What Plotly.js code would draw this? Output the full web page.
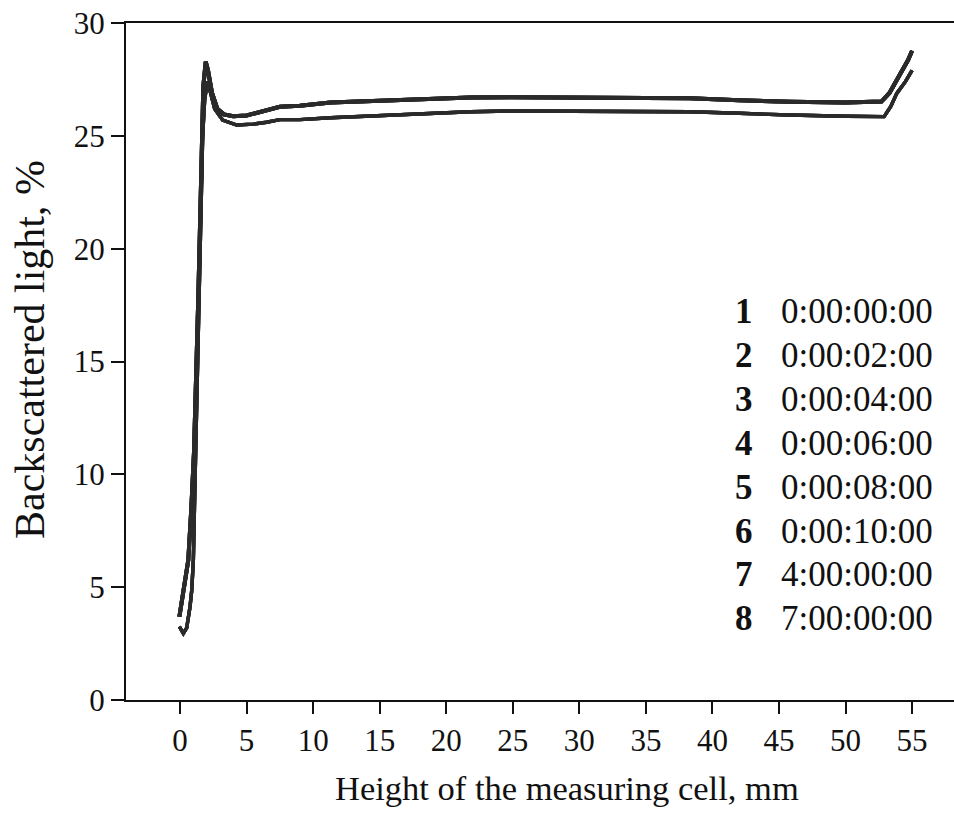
<!DOCTYPE html>
<html>
<head>
<meta charset="utf-8">
<script src="https://cdn.plot.ly/plotly-3.0.1.min.js"></script>
<style>html,body{margin:0;padding:0;background:#fff;}#chart{width:954px;height:814px;}</style>
</head>
<body>
<div id="chart"></div>
<script>
// Upper band of curves (higher backscattering)
const xUpper = [-0.05, 0.3, 0.62, 0.85, 1.05, 1.38, 1.6, 1.75, 1.93, 2.1, 2.4, 2.8, 3.3, 4.0, 5.0, 6.0, 7.5, 9.0, 10.0, 11.3, 15, 18, 21.8, 25, 30, 35, 38.3, 42, 45.8, 50, 52.7, 53.3, 53.85, 54.7, 55.0];
const yUpper = [3.69, 5.0, 6.2, 8.5, 11.0, 18.0, 24.5, 27.2, 28.28, 27.9, 26.9, 26.2, 25.95, 25.87, 25.9, 26.05, 26.29, 26.33, 26.38, 26.48, 26.55, 26.62, 26.7, 26.71, 26.7, 26.68, 26.66, 26.58, 26.51, 26.48, 26.52, 26.9, 27.47, 28.36, 28.77];
// Lower band of curves
const xLower = [-0.05, 0.25, 0.5, 0.75, 0.88, 1.0, 1.1, 1.3, 1.5, 1.7, 1.85, 2.05, 2.25, 2.6, 3.2, 4.26, 5.5, 6.5, 7.5, 9.0, 11.3, 15, 18, 21.8, 25, 30, 35, 38.3, 42, 45.8, 50, 52.9, 53.4, 53.85, 54.5, 55.0];
const yLower = [3.25, 2.95, 3.19, 4.13, 4.87, 6.2, 9.0, 14.5, 20.0, 25.0, 26.6, 27.4, 27.0, 26.2, 25.7, 25.48, 25.52, 25.6, 25.72, 25.72, 25.8, 25.9, 25.98, 26.07, 26.1, 26.08, 26.06, 26.07, 26.0, 25.92, 25.87, 25.85, 26.3, 26.88, 27.4, 27.9];

const seriesNumbers = ['1', '2', '3', '4', '5', '6', '7', '8'];
const seriesTimes = ['0:00:00:00', '0:00:02:00', '0:00:04:00', '0:00:06:00', '0:00:08:00', '0:00:10:00', '4:00:00:00', '7:00:00:00'];
const seriesBand = ['upper', 'upper', 'upper', 'upper', 'lower', 'lower', 'lower', 'lower'];

const xTicks = [0, 5, 10, 15, 20, 25, 30, 35, 40, 45, 50, 55];
const yTicks = [0, 5, 10, 15, 20, 25, 30];

const serif = 'Liberation Serif, Times New Roman, serif';

const traces = seriesNumbers.map((n, i) => {
  const up = seriesBand[i] === 'upper';
  return {
    type: 'scatter', mode: 'lines',
    x: up ? xUpper : xLower,
    y: up ? yUpper : yLower,
    name: n + ' ' + seriesTimes[i],
    line: {color: '#2a2a2a', width: up ? 4 : 3.4},
    showlegend: false, hoverinfo: 'skip'
  };
});

// plot area: x px 126..954, y px 23..700
const L = 126, R = 954, T = 23, B = 700;
const px = v => (v - L) / (R - L);
const py = v => (B - v) / (B - T);

const annotations = [];
seriesNumbers.forEach((n, i) => {
  const yc = 311.5 + 43.9 * i;
  annotations.push({xref: 'paper', yref: 'paper', x: px(744), y: py(yc), xanchor: 'center', yanchor: 'middle',
    text: '<b>' + n + '</b>', showarrow: false, font: {family: serif, size: 35, color: '#111'}});
  annotations.push({xref: 'paper', yref: 'paper', x: px(779), y: py(yc), xanchor: 'left', yanchor: 'middle',
    text: seriesTimes[i], showarrow: false, font: {family: serif, size: 35, color: '#111'}});
});
annotations.push({xref: 'paper', yref: 'paper', x: px(567), y: py(788), xanchor: 'center', yanchor: 'middle',
  text: 'Height of the measuring cell, mm', showarrow: false, font: {family: serif, size: 34.5, color: '#111'}});
annotations.push({xref: 'paper', yref: 'paper', x: px(30), y: py(350), xanchor: 'center', yanchor: 'middle', textangle: -90,
  text: 'Backscattered light, %', showarrow: false, font: {family: serif, size: 42, color: '#111'}});

const layout = {
  width: 954, height: 814,
  margin: {l: L, r: 0, t: T, b: 814 - B, pad: 0},
  paper_bgcolor: '#fff', plot_bgcolor: '#fff',
  xaxis: {
    range: [-4.06, 58.15], tickvals: xTicks, ticktext: xTicks.map(String),
    showgrid: false, zeroline: false, showline: true, mirror: true, linecolor: '#111', linewidth: 2,
    ticks: 'outside', ticklen: 12, tickwidth: 2, tickcolor: '#111',
    tickfont: {family: serif, size: 31, color: '#111'}
  },
  yaxis: {
    range: [0, 30], tickvals: yTicks, ticktext: yTicks.map(String),
    showgrid: false, zeroline: false, showline: true, mirror: false, linecolor: '#111', linewidth: 2,
    ticks: 'outside', ticklen: 13, tickwidth: 2, tickcolor: '#111',
    tickfont: {family: serif, size: 31, color: '#111'}
  },
  annotations: annotations
};

Plotly.newPlot('chart', traces, layout, {staticPlot: true, displayModeBar: false});
</script>
</body>
</html>
